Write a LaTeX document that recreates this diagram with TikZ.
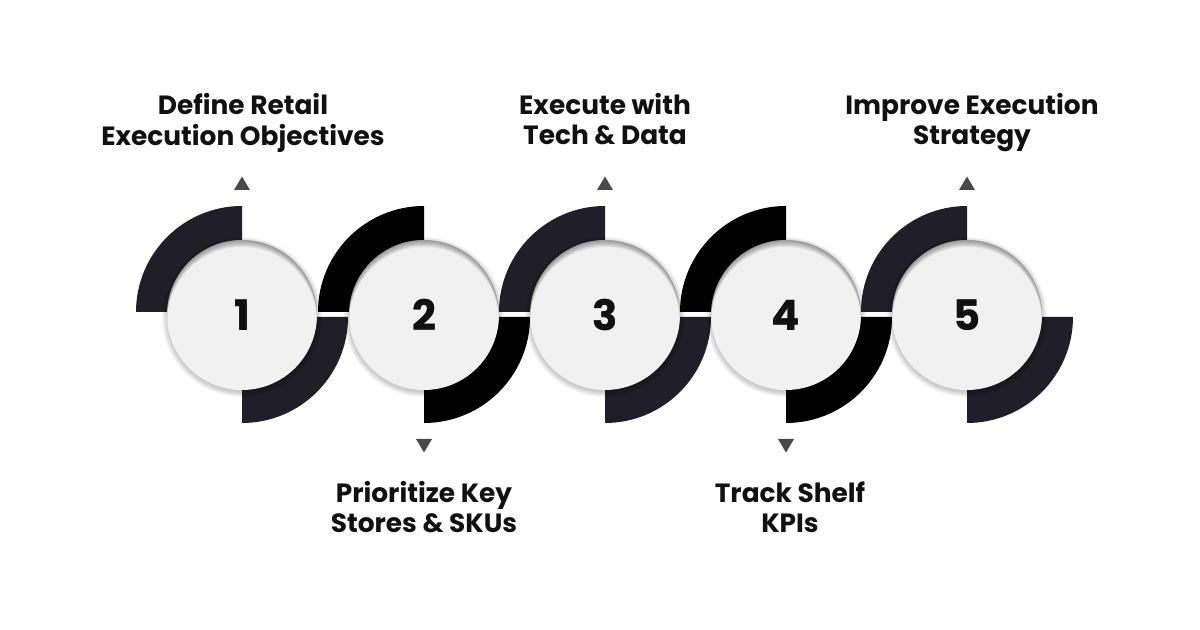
\documentclass[tikz,border=0pt]{standalone}
\usepackage{fontspec}
\setmainfont{Poppins}
\definecolor{navy}{HTML}{201E29}
\definecolor{circ}{HTML}{F1F1F1}
\definecolor{tri}{HTML}{4A4A4A}
\definecolor{txt}{HTML}{111111}
\begin{document}
\begin{tikzpicture}[x=1bp,y=1bp,
  stepcircle/.style={circle, minimum size=150bp, inner sep=0pt, fill=circ,
    font=\bfseries\fontsize{42}{42}\selectfont, text=txt},
  steplabel/.style={align=center, font=\bfseries\fontsize{26.5}{30}\selectfont, text=txt, inner sep=0pt},
  tipfill/.style={fill=tri}]
\useasboundingbox (0,0) rectangle (1200,630);
\fill[white] (0,0) rectangle (1200,630);
\foreach \i/\x/\c in {1/242/navy,2/424/black,3/605/navy,4/786/black,5/967/navy}{
  \fill[\c] (\x,318) -- ++(-106bp,0) arc[start angle=180,end angle=90,radius=106bp] -- cycle;
  \fill[\c] (\x,313) -- ++(106bp,0) arc[start angle=0,end angle=-90,radius=106bp] -- cycle;
  \foreach \k in {1,...,6}{
    \fill[black,opacity=0.035] (\x,313) circle[radius={(74+\k)*1bp}];
  }
  \node[stepcircle] (c\i) at (\x,315) {\i};
  \begin{scope}
    \clip (\x,315) circle[radius=75bp];
    \foreach \k in {1,...,7}{
      \fill[black,opacity=0.06,even odd rule] (\x,315) circle[radius=80bp] (\x,{315-\k}) circle[radius=75bp];
    }
  \end{scope}
  \node[stepcircle, fill=none] at (\x,315) {\i};
}
% triangles
\foreach \x in {242,605,967}{
  \fill[tipfill] (\x-8,440) -- (\x+8,440) -- (\x,453.5) -- cycle;
}
\foreach \x in {424,786}{
  \fill[tipfill] (\x-8,191) -- (\x+8,191) -- (\x,177.5) -- cycle;
}
\node[steplabel] (t1) at (243,506.5) {\strut Define Retail\\\strut Execution Objectives};
\node[steplabel] (t3) at (605,506.5) {\strut Execute with\\\strut Tech \& Data};
\node[steplabel] (t5) at (972,506.5) {\strut Improve Execution\\\strut Strategy};
\node[steplabel] (t2) at (424,118.5) {\strut Prioritize Key\\\strut Stores \& SKUs};
\node[steplabel] (t4) at (790,118.5) {\strut Track Shelf\\\strut KPIs};
\end{tikzpicture}
\end{document}
